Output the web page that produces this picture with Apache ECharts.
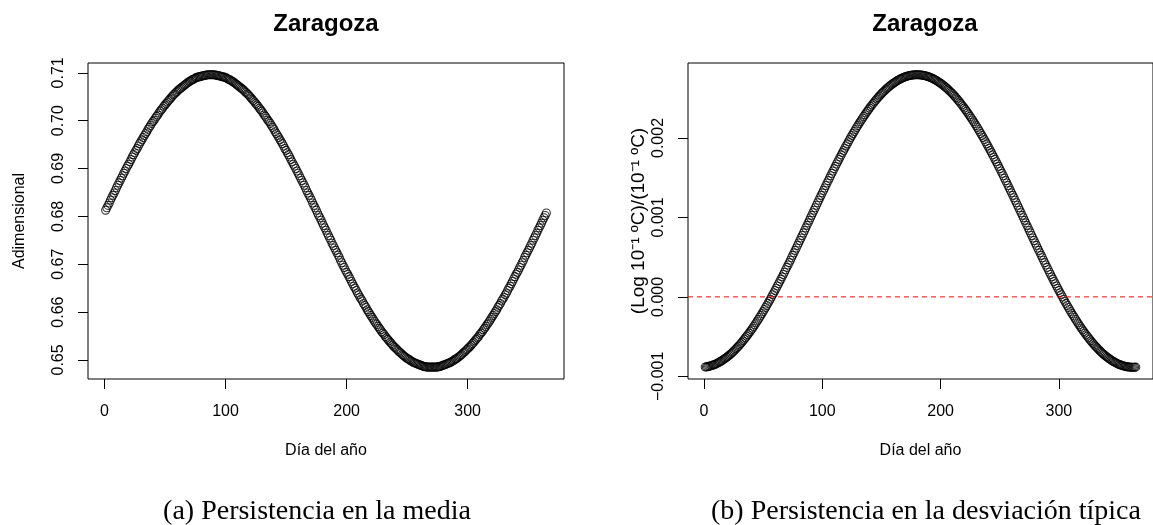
<!DOCTYPE html>
<html lang="es">
<head>
<meta charset="utf-8">
<title>Zaragoza - persistencia</title>
<script src="https://cdn.jsdelivr.net/npm/echarts@6.0.0/dist/echarts.min.js"></script>
<style>
  html, body { margin: 0; padding: 0; background: #ffffff; }
  #chart { width: 1153px; height: 525px; }
</style>
</head>
<body>
<div id="chart"></div>
<script>
// Día del año (1..365)
const dias = Array.from({ length: 365 }, (_, i) => i + 1);

// Persistencia en la media (adimensional), un valor por día
const persistenciaMedia = [
  0.6813, 0.6818, 0.6823, 0.6828, 0.6834, 0.6839, 0.6844, 0.6849, 0.6854, 0.6860,
  0.6865, 0.6870, 0.6875, 0.6880, 0.6885, 0.6890, 0.6895, 0.6900, 0.6905, 0.6909,
  0.6914, 0.6919, 0.6924, 0.6929, 0.6933, 0.6938, 0.6942, 0.6947, 0.6952, 0.6956,
  0.6960, 0.6965, 0.6969, 0.6973, 0.6977, 0.6982, 0.6986, 0.6990, 0.6994, 0.6998,
  0.7001, 0.7005, 0.7009, 0.7012, 0.7016, 0.7020, 0.7023, 0.7026, 0.7030, 0.7033,
  0.7036, 0.7039, 0.7042, 0.7045, 0.7048, 0.7051, 0.7054, 0.7056, 0.7059, 0.7061,
  0.7064, 0.7066, 0.7068, 0.7070, 0.7072, 0.7074, 0.7076, 0.7078, 0.7080, 0.7082,
  0.7083, 0.7085, 0.7086, 0.7087, 0.7089, 0.7090, 0.7091, 0.7092, 0.7092, 0.7093,
  0.7094, 0.7094, 0.7095, 0.7095, 0.7096, 0.7096, 0.7096, 0.7096, 0.7096, 0.7096,
  0.7096, 0.7095, 0.7095, 0.7094, 0.7094, 0.7093, 0.7092, 0.7092, 0.7091, 0.7090,
  0.7089, 0.7087, 0.7086, 0.7085, 0.7083, 0.7082, 0.7080, 0.7078, 0.7076, 0.7074,
  0.7072, 0.7070, 0.7068, 0.7066, 0.7064, 0.7061, 0.7059, 0.7056, 0.7054, 0.7051,
  0.7048, 0.7045, 0.7042, 0.7039, 0.7036, 0.7033, 0.7030, 0.7026, 0.7023, 0.7020,
  0.7016, 0.7012, 0.7009, 0.7005, 0.7001, 0.6998, 0.6994, 0.6990, 0.6986, 0.6982,
  0.6977, 0.6973, 0.6969, 0.6965, 0.6960, 0.6956, 0.6952, 0.6947, 0.6942, 0.6938,
  0.6933, 0.6929, 0.6924, 0.6919, 0.6914, 0.6909, 0.6905, 0.6900, 0.6895, 0.6890,
  0.6885, 0.6880, 0.6875, 0.6870, 0.6865, 0.6860, 0.6854, 0.6849, 0.6844, 0.6839,
  0.6834, 0.6828, 0.6823, 0.6818, 0.6813, 0.6807, 0.6802, 0.6797, 0.6792, 0.6786,
  0.6781, 0.6776, 0.6771, 0.6765, 0.6760, 0.6755, 0.6750, 0.6744, 0.6739, 0.6734,
  0.6729, 0.6724, 0.6719, 0.6714, 0.6708, 0.6703, 0.6698, 0.6693, 0.6688, 0.6683,
  0.6679, 0.6674, 0.6669, 0.6664, 0.6659, 0.6654, 0.6650, 0.6645, 0.6640, 0.6636,
  0.6631, 0.6627, 0.6623, 0.6618, 0.6614, 0.6610, 0.6605, 0.6601, 0.6597, 0.6593,
  0.6589, 0.6585, 0.6581, 0.6577, 0.6574, 0.6570, 0.6566, 0.6563, 0.6559, 0.6556,
  0.6553, 0.6549, 0.6546, 0.6543, 0.6540, 0.6537, 0.6534, 0.6531, 0.6528, 0.6526,
  0.6523, 0.6521, 0.6518, 0.6516, 0.6514, 0.6511, 0.6509, 0.6507, 0.6505, 0.6503,
  0.6502, 0.6500, 0.6498, 0.6497, 0.6495, 0.6494, 0.6493, 0.6492, 0.6491, 0.6490,
  0.6489, 0.6488, 0.6487, 0.6486, 0.6486, 0.6485, 0.6485, 0.6485, 0.6485, 0.6485,
  0.6485, 0.6485, 0.6485, 0.6485, 0.6485, 0.6486, 0.6486, 0.6487, 0.6488, 0.6489,
  0.6490, 0.6491, 0.6492, 0.6493, 0.6494, 0.6495, 0.6497, 0.6498, 0.6500, 0.6502,
  0.6503, 0.6505, 0.6507, 0.6509, 0.6511, 0.6514, 0.6516, 0.6518, 0.6521, 0.6523,
  0.6526, 0.6528, 0.6531, 0.6534, 0.6537, 0.6540, 0.6543, 0.6546, 0.6549, 0.6553,
  0.6556, 0.6559, 0.6563, 0.6566, 0.6570, 0.6574, 0.6577, 0.6581, 0.6585, 0.6589,
  0.6593, 0.6597, 0.6601, 0.6605, 0.6610, 0.6614, 0.6618, 0.6623, 0.6627, 0.6631,
  0.6636, 0.6640, 0.6645, 0.6650, 0.6654, 0.6659, 0.6664, 0.6669, 0.6674, 0.6679,
  0.6683, 0.6688, 0.6693, 0.6698, 0.6703, 0.6708, 0.6714, 0.6719, 0.6724, 0.6729,
  0.6734, 0.6739, 0.6744, 0.6750, 0.6755, 0.6760, 0.6765, 0.6771, 0.6776, 0.6781,
  0.6786, 0.6792, 0.6797, 0.6802, 0.6807
];

// Persistencia en la desviación típica, (Log 10^-1 ºC)/(10^-1 ºC), un valor por día
const persistenciaDesv = [
  -0.000883, -0.000881, -0.000878, -0.000874, -0.000871, -0.000866, -0.000861, -0.000856, -0.000850, -0.000844,
  -0.000837, -0.000829, -0.000821, -0.000812, -0.000803, -0.000793, -0.000783, -0.000773, -0.000761, -0.000750,
  -0.000737, -0.000725, -0.000712, -0.000698, -0.000684, -0.000669, -0.000654, -0.000638, -0.000622, -0.000605,
  -0.000588, -0.000571, -0.000553, -0.000534, -0.000515, -0.000496, -0.000476, -0.000456, -0.000436, -0.000415,
  -0.000394, -0.000372, -0.000350, -0.000327, -0.000304, -0.000281, -0.000257, -0.000233, -0.000209, -0.000184,
  -0.000159, -0.000134, -0.000108, -0.000082, -0.000055, -0.000029, -0.000002, 0.000026, 0.000053, 0.000081,
  0.000109, 0.000137, 0.000165, 0.000194, 0.000223, 0.000252, 0.000282, 0.000311, 0.000341, 0.000371,
  0.000401, 0.000431, 0.000462, 0.000493, 0.000523, 0.000554, 0.000585, 0.000616, 0.000648, 0.000679,
  0.000710, 0.000741, 0.000773, 0.000805, 0.000836, 0.000868, 0.000900, 0.000931, 0.000963, 0.000995,
  0.001026, 0.001058, 0.001090, 0.001121, 0.001153, 0.001184, 0.001216, 0.001247, 0.001278, 0.001309,
  0.001340, 0.001371, 0.001402, 0.001433, 0.001463, 0.001494, 0.001524, 0.001554, 0.001584, 0.001614,
  0.001643, 0.001672, 0.001701, 0.001730, 0.001759, 0.001787, 0.001816, 0.001843, 0.001871, 0.001898,
  0.001925, 0.001952, 0.001979, 0.002005, 0.002031, 0.002056, 0.002082, 0.002106, 0.002131, 0.002155,
  0.002179, 0.002203, 0.002226, 0.002248, 0.002271, 0.002293, 0.002314, 0.002335, 0.002356, 0.002376,
  0.002396, 0.002416, 0.002435, 0.002454, 0.002472, 0.002490, 0.002507, 0.002524, 0.002540, 0.002556,
  0.002571, 0.002586, 0.002601, 0.002615, 0.002628, 0.002641, 0.002654, 0.002666, 0.002677, 0.002688,
  0.002698, 0.002708, 0.002718, 0.002727, 0.002735, 0.002743, 0.002750, 0.002757, 0.002763, 0.002769,
  0.002774, 0.002779, 0.002783, 0.002786, 0.002789, 0.002792, 0.002793, 0.002795, 0.002796, 0.002796,
  0.002796, 0.002795, 0.002793, 0.002792, 0.002789, 0.002786, 0.002783, 0.002779, 0.002774, 0.002769,
  0.002763, 0.002757, 0.002750, 0.002743, 0.002735, 0.002727, 0.002718, 0.002708, 0.002698, 0.002688,
  0.002677, 0.002666, 0.002654, 0.002641, 0.002628, 0.002615, 0.002601, 0.002586, 0.002571, 0.002556,
  0.002540, 0.002524, 0.002507, 0.002490, 0.002472, 0.002454, 0.002435, 0.002416, 0.002396, 0.002376,
  0.002356, 0.002335, 0.002314, 0.002293, 0.002271, 0.002248, 0.002226, 0.002203, 0.002179, 0.002155,
  0.002131, 0.002106, 0.002082, 0.002056, 0.002031, 0.002005, 0.001979, 0.001952, 0.001925, 0.001898,
  0.001871, 0.001843, 0.001816, 0.001787, 0.001759, 0.001730, 0.001701, 0.001672, 0.001643, 0.001614,
  0.001584, 0.001554, 0.001524, 0.001494, 0.001463, 0.001433, 0.001402, 0.001371, 0.001340, 0.001309,
  0.001278, 0.001247, 0.001216, 0.001184, 0.001153, 0.001121, 0.001090, 0.001058, 0.001026, 0.000995,
  0.000963, 0.000931, 0.000900, 0.000868, 0.000836, 0.000805, 0.000773, 0.000741, 0.000710, 0.000679,
  0.000648, 0.000616, 0.000585, 0.000554, 0.000523, 0.000493, 0.000462, 0.000431, 0.000401, 0.000371,
  0.000341, 0.000311, 0.000282, 0.000252, 0.000223, 0.000194, 0.000165, 0.000137, 0.000109, 0.000081,
  0.000053, 0.000026, -0.000002, -0.000029, -0.000055, -0.000082, -0.000108, -0.000134, -0.000159, -0.000184,
  -0.000209, -0.000233, -0.000257, -0.000281, -0.000304, -0.000327, -0.000350, -0.000372, -0.000394, -0.000415,
  -0.000436, -0.000456, -0.000476, -0.000496, -0.000515, -0.000534, -0.000553, -0.000571, -0.000588, -0.000605,
  -0.000622, -0.000638, -0.000654, -0.000669, -0.000684, -0.000698, -0.000712, -0.000725, -0.000737, -0.000750,
  -0.000761, -0.000773, -0.000783, -0.000793, -0.000803, -0.000812, -0.000821, -0.000829, -0.000837, -0.000844,
  -0.000850, -0.000856, -0.000861, -0.000866, -0.000871, -0.000874, -0.000878, -0.000881, -0.000883, -0.000884,
  -0.000885, -0.000886, -0.000886, -0.000885, -0.000884
];

// Línea de referencia horizontal (valor cero) del panel derecho
const valorReferencia = 0;

// Marcas de los ejes
const ticksDia = [0, 100, 200, 300];
const ticksMedia = [0.65, 0.66, 0.67, 0.68, 0.69, 0.70, 0.71];
const ticksDesv = [-0.001, 0.000, 0.001, 0.002];

// Textos
const tituloEstacion = 'Zaragoza';
const etiquetaX = 'Día del año';
const etiquetaMedia = 'Adimensional';
const etiquetaDesv = '(Log 10\u207B\u00B9 \u00BAC)/(10\u207B\u00B9 \u00BAC)';
const pieA = '(a) Persistencia en la media';
const pieB = '(b) Persistencia en la desviación típica';

const SANS = '"Liberation Sans", Arial, Helvetica, sans-serif';
const SERIF = '"Liberation Serif", "Times New Roman", serif';

// Rango del eje de días (con el margen habitual del 4 %)
const DIA_MIN = -13.56;
const DIA_MAX = 379.56;

const chart = echarts.init(document.getElementById('chart'), null, { renderer: 'canvas' });

function ejeX(gridIndex) {
  return {
    type: 'value', gridIndex: gridIndex,
    min: DIA_MIN, max: DIA_MAX,
    axisLine: { show: false, onZero: false },
    splitLine: { show: false },
    axisTick: { show: true, inside: false, customValues: ticksDia, length: 10, lineStyle: { color: '#000', width: 1 } },
    axisLabel: { customValues: ticksDia, margin: 25, fontSize: 16, color: '#000', fontFamily: SANS },
    name: etiquetaX, nameLocation: 'middle', nameGap: 64,
    nameTextStyle: { fontSize: 16, color: '#000', fontFamily: SANS }
  };
}

const simbolo = {
  type: 'scatter', symbol: 'circle', symbolSize: 8,
  itemStyle: { color: 'rgba(0,0,0,0)', borderColor: '#000', borderWidth: 1.1 },
  emphasis: { disabled: true }, silent: true, animation: false
};

const option = {
  backgroundColor: '#ffffff',
  animation: false,
  title: [
    { text: tituloEstacion, left: 326, top: 12, textAlign: 'center', padding: 0,
      textStyle: { fontSize: 24, fontWeight: 'bold', color: '#000', fontFamily: SANS } },
    { text: tituloEstacion, left: 925, top: 12, textAlign: 'center', padding: 0,
      textStyle: { fontSize: 24, fontWeight: 'bold', color: '#000', fontFamily: SANS } },
    { text: pieA, left: 317, top: 498, textAlign: 'center', padding: 0,
      textStyle: { fontSize: 28, fontWeight: 'normal', color: '#000', fontFamily: SERIF } },
    { text: pieB, left: 926, top: 498, textAlign: 'center', padding: 0,
      textStyle: { fontSize: 28, fontWeight: 'normal', color: '#000', fontFamily: SERIF } }
  ],
  grid: [
    { left: 88, top: 63, width: 476, height: 316, show: true, borderColor: '#000', borderWidth: 1, backgroundColor: 'transparent' },
    { left: 688, top: 63, width: 474, height: 316, show: true, borderColor: '#000', borderWidth: 1, backgroundColor: 'transparent' }
  ],
  xAxis: [ejeX(0), ejeX(1)],
  yAxis: [
    {
      type: 'value', gridIndex: 0, min: 0.64601, max: 0.71206,
      axisLine: { show: false, onZero: false }, splitLine: { show: false },
      axisTick: { show: true, inside: false, customValues: ticksMedia, length: 10, lineStyle: { color: '#000', width: 1 } },
      axisLabel: { customValues: ticksMedia, rotate: 90, margin: 21, fontSize: 16, color: '#000', fontFamily: SANS,
        formatter: v => v.toFixed(2) },
      name: etiquetaMedia, nameLocation: 'middle', nameGap: 60,
      nameTextStyle: { fontSize: 16, color: '#000', fontFamily: SANS }
    },
    {
      type: 'value', gridIndex: 1, min: -0.0010333, max: 0.0029433,
      axisLine: { show: false, onZero: false }, splitLine: { show: false },
      axisTick: { show: true, inside: false, customValues: ticksDesv, length: 10, lineStyle: { color: '#000', width: 1 } },
      axisLabel: { customValues: ticksDesv, rotate: 90, margin: 21, fontSize: 16, color: '#000', fontFamily: SANS,
        formatter: v => v.toFixed(3).replace('-', '\u2212') },
      name: etiquetaDesv, nameLocation: 'middle', nameGap: 40,
      nameTextStyle: { fontSize: 19, color: '#000', fontFamily: SANS }
    }
  ],
  series: [
    Object.assign({}, simbolo, {
      name: 'media', xAxisIndex: 0, yAxisIndex: 0,
      data: dias.map((d, i) => [d, persistenciaMedia[i]])
    }),
    Object.assign({}, simbolo, {
      name: 'desviacion', xAxisIndex: 1, yAxisIndex: 1,
      data: dias.map((d, i) => [d, persistenciaDesv[i]])
    }),
    {
      // línea discontinua roja en cero, de borde a borde del panel
      name: 'cero', type: 'line', xAxisIndex: 1, yAxisIndex: 1,
      data: [[DIA_MIN, valorReferencia], [DIA_MAX, valorReferencia]],
      symbol: 'none', silent: true, animation: false, clip: true,
      color: '#ff0000',
      lineStyle: { color: '#ff0000', type: [5, 4], width: 1 },
      emphasis: { disabled: true }
    }
  ]
};

chart.setOption(option);
</script>
</body>
</html>
